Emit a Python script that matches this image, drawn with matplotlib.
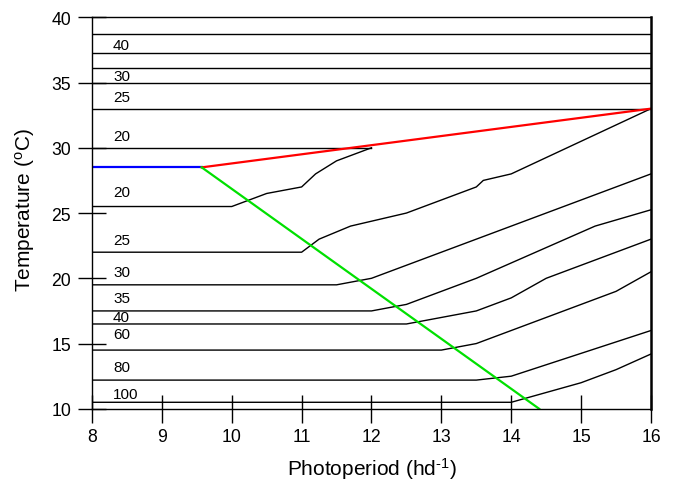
import numpy as np
import matplotlib
matplotlib.use("Agg")
import matplotlib.pyplot as plt

plt.rcParams['font.family'] = ['Liberation Sans', 'DejaVu Sans']
plt.rcParams['mathtext.fontset'] = 'custom'
plt.rcParams['mathtext.rm'] = 'Liberation Sans'
plt.rcParams['mathtext.it'] = 'Liberation Sans:italic'

#       <--- DATA --->
#------------------------------------------------------------------------------
# flat isolines at the top of the chart (span full photoperiod range)
top_levels = [38.7, 37.3, 36.1, 35.0, 33.0]

# short isoline at 30 C ending where the "20" curve meets it
line30_x = [8, 12]
line30_y = [30, 30]

# isolines (photoperiod, temperature)
c20_x = [8, 10, 10.5, 11, 11.2, 11.5, 12]
c20_y = [25.5, 25.5, 26.5, 27, 28, 29, 30]

c25_x = [8, 11, 11.25, 11.7, 12.5, 13.5, 13.6, 14, 16]
c25_y = [22, 22, 23, 24, 25, 27, 27.5, 28, 33]

c30_x = [8, 11.5, 12, 16]
c30_y = [19.5, 19.5, 20, 28]

c35_x = [8, 12, 12.5, 13.5, 15.2, 16]
c35_y = [17.5, 17.5, 18, 20, 24, 25.25]

c40_x = [8, 12.5, 13.5, 14, 14.5, 16]
c40_y = [16.5, 16.5, 17.5, 18.5, 20, 23]

c60_x = [8, 13, 13.5, 15.5, 16]
c60_y = [14.5, 14.5, 15, 19, 20.5]

c80_x = [8, 13.5, 14, 16]
c80_y = [12.2, 12.2, 12.5, 16]

c100_x = [8, 14, 15, 15.5, 16]
c100_y = [10.5, 10.5, 12, 13, 14.2]

# coloured lines
blue_x = [8, 9.57]
blue_y = [28.5, 28.5]
red_x = [9.57, 16]
red_y = [28.5, 33]
green_x = [9.57, 14.4]
green_y = [28.5, 10]

# isoline labels
labels = ["40", "30", "25", "20", "20", "25", "30", "35", "40", "60", "80", "100"]
label_y = [37.9, 35.5, 33.9, 30.9, 26.6, 22.9, 20.5, 18.5, 17.0, 15.7, 13.2, 11.1]
label_x = 8.3

xticks = range(8, 17)
yticks = range(10, 41, 5)

#       <--- PLOT --->
#------------------------------------------------------------------------------
fig = plt.figure(figsize=(6.73, 4.81), dpi=100)
ax = fig.add_axes([0.1367, 0.148, 0.8306, 0.814])

for lev in top_levels:
    ax.plot([8, 16], [lev, lev], color="black", lw=1.0)
ax.plot(line30_x, line30_y, color="black", lw=1.0)

for cx, cy in [(c20_x, c20_y), (c25_x, c25_y), (c30_x, c30_y), (c35_x, c35_y),
               (c40_x, c40_y), (c60_x, c60_y), (c80_x, c80_y), (c100_x, c100_y)]:
    ax.plot(cx, cy, color="black", lw=1.0)

ax.plot(blue_x, blue_y, color="#0000ff", lw=1.6)
ax.plot(red_x, red_y, color="#ff0000", lw=1.6)
ax.plot(green_x, green_y, color="#00e000", lw=1.6)

for t, y in zip(labels, label_y):
    ax.text(label_x, y, t, fontsize=11, ha="left", va="center")

ax.set_xlim(8, 16)
ax.set_ylim(10, 40)
ax.set_xticks(list(xticks))
ax.set_yticks(list(yticks))
ax.tick_params(direction="inout", length=20, width=1, labelsize=12.7)
ax.tick_params(axis="x", pad=4)
ax.tick_params(axis="y", pad=5)
for s in ax.spines.values():
    s.set_linewidth(1.0)
ax.spines["right"].set_linewidth(1.8)

ax.set_xlabel("Photoperiod (hd$^{\\text{-1}}$)", fontsize=15, labelpad=7)
ax.set_ylabel("Temperature ($^{\\mathrm{o}}$C)", fontsize=15, labelpad=9)
ax.yaxis.set_label_coords(-0.098, 0.51)

fig.savefig("out.png", dpi=100)
